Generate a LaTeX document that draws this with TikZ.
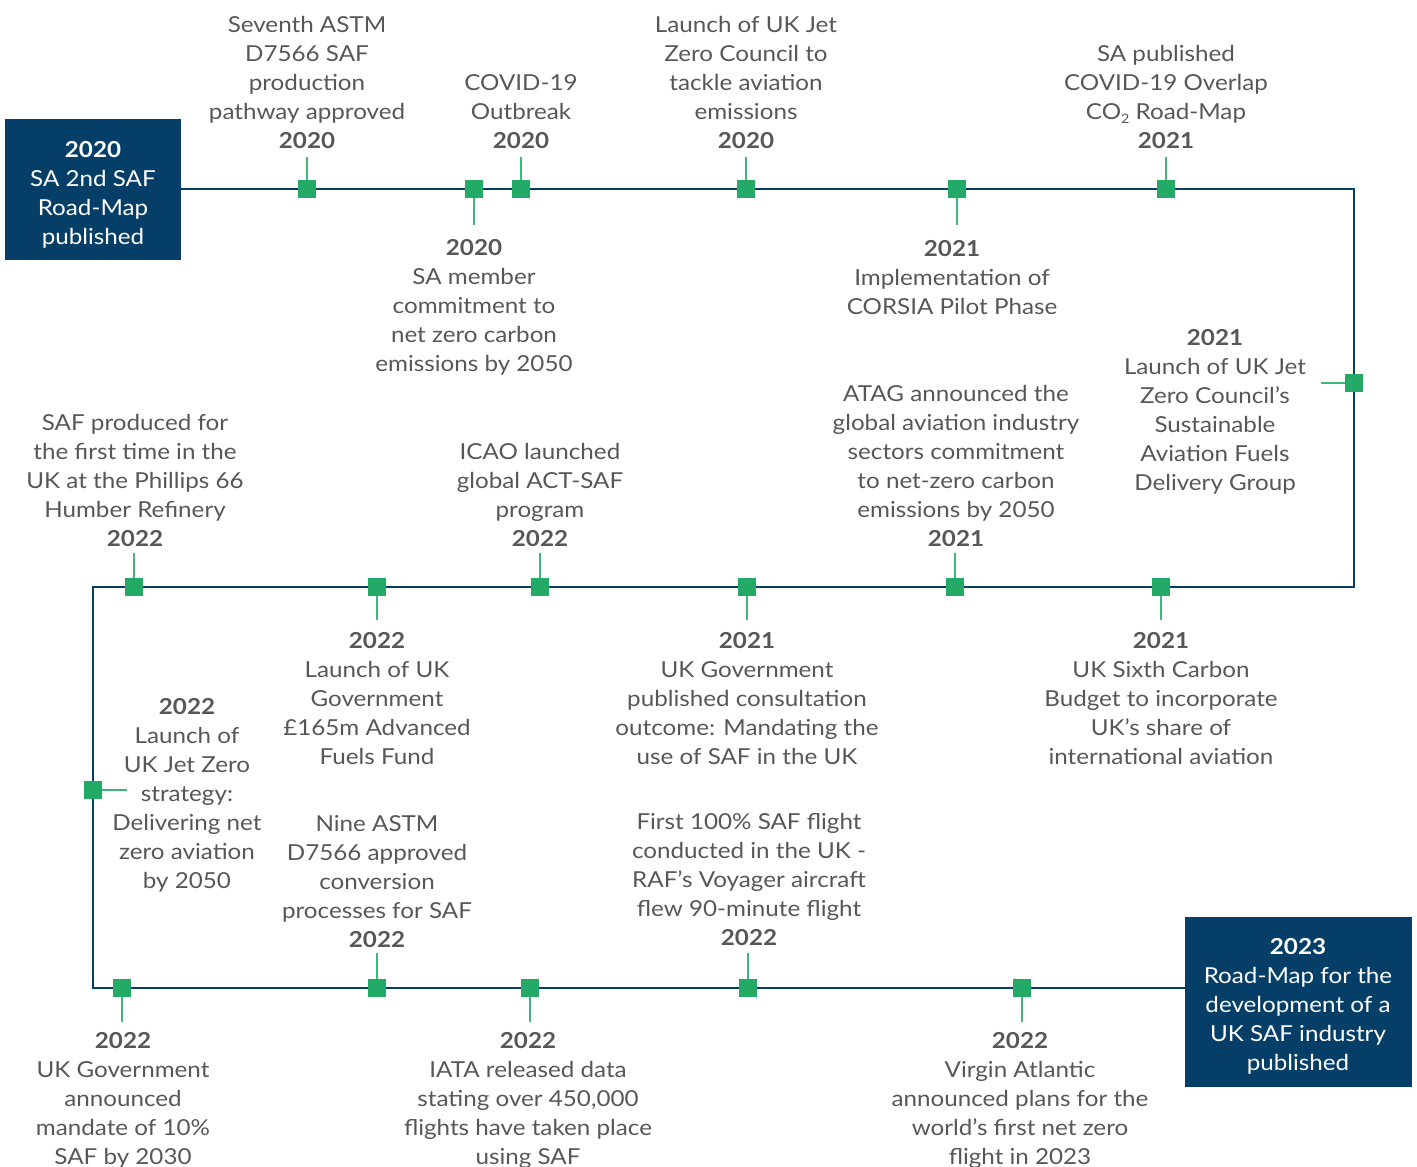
\documentclass[tikz,border=0pt]{standalone}
\usepackage{fontspec}
\setmainfont{Lato}[FakeStretch=1.1]
\definecolor{navy}{HTML}{053F68}
\definecolor{mgreen}{HTML}{22AA66}
\definecolor{stemgreen}{HTML}{3DB878}
\definecolor{txt}{HTML}{575757}
\begin{document}
\begin{tikzpicture}[x=1pt,y=-1pt,
  mk/.style={fill=mgreen,minimum size=18pt,inner sep=0pt,outer sep=0pt,draw=none},
  stemline/.style={draw=stemgreen,line width=1.5pt},
  mainline/.style={draw=navy,line width=2pt},
  lbl/.style={text=txt,align=center,font=\fontsize{22}{29}\selectfont,inner sep=0pt,yshift=-1pt},
  bluebox/.style={fill=navy,text=white,align=center,font=\fontsize{22}{29}\selectfont,inner sep=0pt,yshift=-1pt}]
\useasboundingbox (0,0) rectangle (1417,1167);
% boxes
\fill[navy] (5,119) rectangle (181,260);
\node[bluebox] (boxA) at (93,194) {\textbf{2020}\\SA 2nd SAF\\Road-Map\\published};
\coordinate (boxAe) at (181,189);
\fill[navy] (1185,917) rectangle (1412,1087);
\node[bluebox] (boxB) at (1298,1005.5) {\textbf{2023}\\Road-Map for the\\development of a\\UK SAF industry\\published};
\coordinate (boxBw) at (1185,988);
% corners
\coordinate (c1) at (1354,189);
\coordinate (c2) at (1354,587);
\coordinate (c3) at (93,587);
\coordinate (c4) at (93,988);
\draw[mainline] (boxAe) -- (c1) -- (c2) -- (c3) -- (c4) -- (boxBw);
% stems end points and markers
\foreach \n/\x/\y/\sx/\sy in {
  a/307/189/307/157, b/474/189/474/225, c/521/189/521/157, d/746/189/746/157,
  e/957/189/957/225, f/1166/189/1166/157, g/1354/383/1321/383,
  h/134/587/134/553, i/377/587/377/620, j/540/587/540/553, k/747/587/747/620,
  l/955/587/955/553, m/1161/587/1161/620, n/93/790/127/790,
  o/122/988/122/1022, p/377/988/377/953, q/530/988/530/1022, r/748/988/748/953,
  s/1022/988/1022/1022}{
  \coordinate (s\n) at (\sx,\sy);
  \node[mk] (m\n) at (\x,\y) {};
  \draw[stemline] (m\n) -- (s\n);
}
% labels
\node[lbl] (ta) at (307,81.5) {Seventh ASTM\\D7566 SAF\\production\\pathway approved\\\textbf{2020}};
\node[lbl] (tc) at (521,110.5) {COVID-19\\Outbreak\\\textbf{2020}};
\node[lbl] (td) at (746,81.5) {Launch of UK Jet\\Zero Council to\\tackle aviation\\emissions\\\textbf{2020}};
\node[lbl] (tf) at (1166,96) {SA published\\COVID-19 Overlap\\CO\raisebox{-0.35ex}{\fontsize{13}{13}\selectfont 2} Road-Map\\\textbf{2021}};
\node[lbl] (tb) at (474,306) {\textbf{2020}\\SA member\\commitment to\\net zero carbon\\emissions by 2050};
\node[lbl] (te) at (952,277) {\textbf{2021}\\Implementation of\\CORSIA Pilot Phase};
\node[lbl] (tg) at (1215,411) {\textbf{2021}\\Launch of UK Jet\\Zero Council’s\\Sustainable\\Aviation Fuels\\Delivery Group};
\node[lbl] (th) at (135,479) {SAF produced for\\the first time in the\\UK at the Phillips 66\\Humber Refinery\\\textbf{2022}};
\node[lbl] (tj) at (540,493.5) {ICAO launched\\global ACT-SAF\\program\\\textbf{2022}};
\node[lbl] (tl) at (956,465) {ATAG announced the\\global aviation industry\\sectors commitment\\to net-zero carbon\\emissions by 2050\\\textbf{2021}};
\node[lbl] (ti) at (377,697.5) {\textbf{2022}\\Launch of UK\\Government\\£165m Advanced\\Fuels Fund};
\node[lbl] (tk) at (747,697.5) {\textbf{2021}\\UK Government\\published consultation\\outcome: Mandating the\\use of SAF in the UK};
\node[lbl] (tm) at (1161,697.5) {\textbf{2021}\\UK Sixth Carbon\\Budget to incorporate\\UK’s share of\\international aviation};
\node[lbl] (tn) at (187,794) {\textbf{2022}\\Launch of\\UK Jet Zero\\strategy:\\Delivering net\\zero aviation\\by 2050};
\node[lbl] (tp) at (377,880.5) {Nine ASTM\\D7566 approved\\conversion\\processes for SAF\\\textbf{2022}};
\node[lbl] (tr) at (749,878.5) {First 100\% SAF flight\\conducted in the UK -\\RAF’s Voyager aircraft\\flew 90-minute flight\\\textbf{2022}};
\node[lbl] (to) at (123,1099.5) {\textbf{2022}\\UK Government\\announced\\mandate of 10\%\\SAF by 2030};
\node[lbl] (tq) at (528,1099.5) {\textbf{2022}\\IATA released data\\stating over 450,000\\flights have taken place\\using SAF};
\node[lbl] (ts) at (1020,1099.5) {\textbf{2022}\\Virgin Atlantic\\announced plans for the\\world’s first net zero\\flight in 2023};
\end{tikzpicture}
\end{document}
